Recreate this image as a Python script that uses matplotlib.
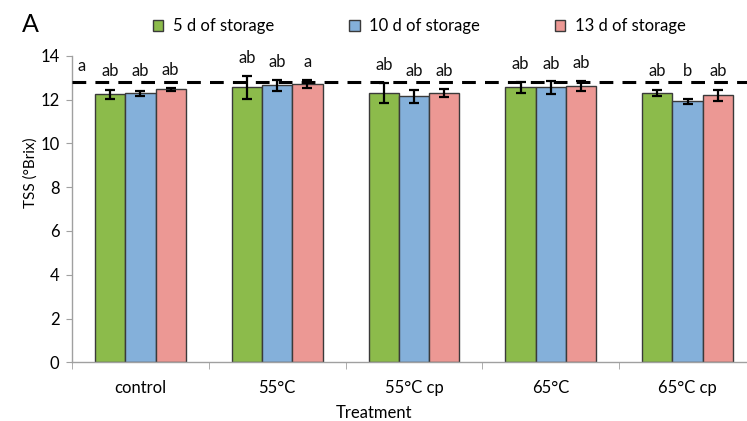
import matplotlib
matplotlib.use("Agg")
import matplotlib.pyplot as plt
import numpy as np

plt.rcParams['font.family'] = ['Lato', 'DejaVu Sans']

treatments = ["control", "55°C", "55°C cp", "65°C", "65°C cp"]
series_names = ["5 d of storage", "10 d of storage", "13 d of storage"]
d5 = [12.24, 12.56, 12.31, 12.55, 12.31]
d10 = [12.28, 12.65, 12.15, 12.55, 11.92]
d13 = [12.46, 12.71, 12.31, 12.62, 12.19]
e5 = [0.21, 0.52, 0.46, 0.26, 0.14]
e10 = [0.11, 0.26, 0.29, 0.29, 0.11]
e13 = [0.07, 0.18, 0.18, 0.24, 0.24]
letters5 = ["ab", "ab", "ab", "ab", "ab"]
letters10 = ["ab", "ab", "ab", "ab", "b"]
letters13 = ["ab", "a", "ab", "ab", "ab"]
reference_line = 12.8
extra_letter = "a"
colors = ["#8CBB4B", "#84B0DA", "#EC9894"]

fig = plt.figure(figsize=(7.47, 4.21), dpi=100)
ax = fig.add_axes([72/747, 58.7/421, 684/747, 306.6/421])

x = np.arange(len(treatments))
w = 0.221
vals = [d5, d10, d13]
errs = [e5, e10, e13]
lets = [letters5, letters10, letters13]
fs = 12
for i in range(3):
    xs = x + (i - 1) * w
    ax.bar(xs, vals[i], width=w, color=colors[i], edgecolor="#3a3a3a",
           linewidth=1.0, label=series_names[i], zorder=2)
    ax.errorbar(xs, vals[i], yerr=errs[i], fmt="none", ecolor="black",
                elinewidth=1.6, capsize=3.5, capthick=1.6, zorder=3)
    for xi, v, e, t in zip(xs, vals[i], errs[i], lets[i]):
        top = max(v + e, 12.5)
        ax.text(xi, top + 0.8, t, ha="center", va="center", fontsize=fs, color="#111111")

ax.text(-0.43, 13.52, extra_letter, ha="center", va="center", fontsize=fs, color="#111111")

ax.axhline(reference_line, color="black", lw=2.2, dashes=(4.5, 3), zorder=4)

ax.set_xlim(-0.5, 4.5)
ax.set_ylim(0, 14)
ax.set_yticks(np.arange(0, 15, 2))
ax.set_xticks(x)
ax.set_xticklabels(treatments, fontsize=fs)
ax.set_xticks(np.arange(-0.5, 5, 1), minor=True)
ax.tick_params(axis="x", which="major", length=0, pad=13)
ax.tick_params(axis="x", which="minor", length=5, color="#a0a0a0", direction="out")
ax.tick_params(axis="y", length=4, color="#a0a0a0", direction="out", labelsize=fs, pad=5)
for s in ["top", "right"]:
    ax.spines[s].set_visible(False)
for s in ["left", "bottom"]:
    ax.spines[s].set_color("#a0a0a0")
    ax.spines[s].set_linewidth(1.0)

ax.set_ylabel("TSS (°Brix)", fontsize=11)
ax.yaxis.set_label_coords(-0.05, 0.62)
ax.set_xlabel("Treatment", fontsize=fs)
ax.xaxis.set_label_coords(0.441, -0.14)

fig.text(22/747, 1 - 25/421, "A", fontsize=18, ha="left", va="center")

leg = fig.legend(loc="center", bbox_to_anchor=(419/747, 1 - 26/421), ncol=3,
                 frameon=False, fontsize=fs, handlelength=0.65, handleheight=0.65,
                 handletextpad=0.55, columnspacing=4.5)

fig.savefig("out.png", dpi=100)
